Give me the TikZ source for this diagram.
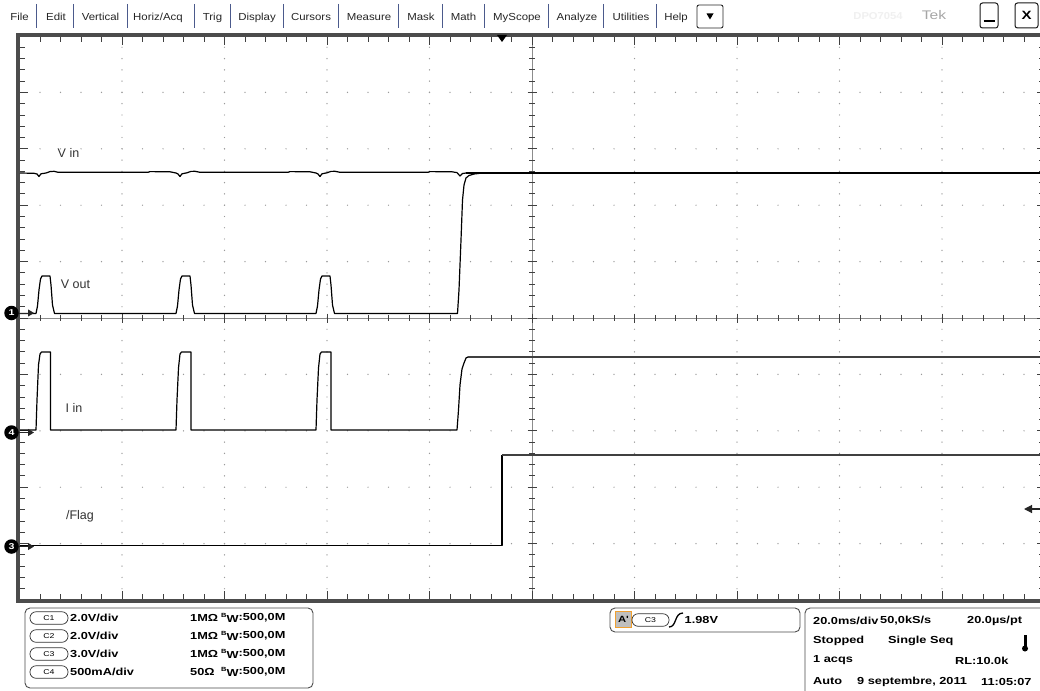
\documentclass[tikz,border=0pt]{standalone}
\usepackage{fontspec}
\setmainfont{Liberation Sans}
\newfontfamily\pf[FakeStretch=1.25]{Liberation Sans}
\newfontfamily\mf[FakeStretch=1.12]{Liberation Sans}
\usetikzlibrary{arrows.meta}
\definecolor{sepblue}{HTML}{4B5A8C}
\definecolor{dotc}{HTML}{9A9A9A}
\definecolor{trigorange}{HTML}{F0A030}
\newcommand\bwlabel{\raisebox{3pt}{\fontsize{6}{6}\selectfont B}\raisebox{-2.5pt}{W}}
\begin{document}
\begin{tikzpicture}[x=1pt,y=-1pt,
  trace/.style={black, line width=1.2pt, line join=round},
  tracer/.style={black!75, line width=1.8pt, line join=round},
  mk/.style={circle, fill=black, text=white, inner sep=0pt, minimum size=14.5pt, font=\pf\bfseries\fontsize{8.5}{8.5}\selectfont},
  mkarrow/.style={-{Triangle[length=6pt,width=7pt]}, line width=1pt, black!85},
  menu/.style={font=\mf\fontsize{10.2}{12}\selectfont, text=black!85, inner sep=0pt, anchor=base},
  sep/.style={sepblue, line width=0.9pt},
  pt/.style={font=\pf\bfseries\fontsize{10.2}{12}\selectfont, inner sep=0pt, anchor=west},
  oval/.style={draw=black!80, line width=0.7pt, rounded corners=6pt, minimum width=38pt, minimum height=12.5pt, inner sep=0pt, font=\pf\fontsize{7}{7}\selectfont},
  lab/.style={font=\fontsize{12.5}{14}\selectfont, text=black!80, inner sep=0pt},
  panel/.style={rounded corners=5pt, black!70, line width=0.9pt},
  tk/.style={black!75, line width=0.9pt},
]
\useasboundingbox (0,0) rectangle (1040,690);
\clip (0,0) rectangle (1040,690);
\fill[white] (0,0) rectangle (1040,690);

% ---------- menu bar ----------
\node[menu] (mFile) at (19.5,21) {File};
\node[menu] (mEdit) at (56,21) {Edit};
\node[menu] (mVert) at (100.5,21) {Vertical};
\node[menu] (mHor) at (158,21) {Horiz/Acq};
\node[menu] (mTrig) at (212.5,21) {Trig};
\node[menu] (mDisp) at (257,21) {Display};
\node[menu] (mCur) at (311,21) {Cursors};
\node[menu] (mMeas) at (369,21) {Measure};
\node[menu] (mMask) at (421,21) {Mask};
\node[menu] (mMath) at (463.5,21) {Math};
\node[menu] (mMy) at (517,21) {MyScope};
\node[menu] (mAn) at (577,21) {Analyze};
\node[menu] (mUt) at (631,21) {Utilities};
\node[menu] (mHelp) at (676,21) {Help};
\foreach \sx in {36,73,127,194,230,283,338,398,442,484,548,603,656}{
  \draw[sep] (\sx,4) -- (\sx,28);
}
\node[draw=black!85, line width=0.9pt, rounded corners=2pt, minimum width=26pt, minimum height=23pt, inner sep=0pt] (dd) at (710,16.5) {};
\fill[black] (706.5,13.5) -- (713.5,13.5) -- (710,19.5) -- cycle;
\node[font=\mf\bfseries\fontsize{10}{12}\selectfont, text=black!6, inner sep=0pt] (dpo) at (878,16) {DPO7054};
\node[font=\pf\fontsize{12.5}{14}\selectfont, text=black!35, inner sep=0pt] (tek) at (934,15.5) {Tek};
\node[draw=black!90, line width=1pt, rounded corners=2.5pt, minimum width=18pt, minimum height=25pt, inner sep=0pt] (minb) at (989,15.5) {};
\draw[black, line width=1.8pt] (983.5,21) -- (994.5,21);
\node[draw=black!90, line width=1pt, rounded corners=2.5pt, minimum width=23pt, minimum height=25pt, inner sep=0pt, font=\pf\bfseries\fontsize{12}{12}\selectfont] (xb) at (1026.5,15.5) {X};

% ---------- grid dots ----------
\foreach \i in {1,2,3,4,6,7,8,9}{
  \foreach \k in {1,...,49}{
    \fill[dotc] ({19.5+102.5*\i},{36+11.28*\k}) circle[radius=0.7];
  }
}
\foreach \j in {1,2,3,4,6,7,8,9}{
  \foreach \k in {1,...,49}{
    \fill[dotc] ({19.5+20.5*\k},{36+56.4*\j}) circle[radius=0.7];
  }
}
% center lines
\draw[black!45, line width=1pt] (532,36) -- (532,600);
\draw[black!45, line width=1pt] (19.5,318) -- (1044.5,318);
% ticks
\foreach \k in {1,...,49}{
  \pgfmathsetmacro\yy{36+11.28*\k}
  \pgfmathsetmacro\xx{19.5+20.5*\k}
  \pgfmathtruncatemacro\mj{mod(\k,5)==0}
  \ifnum\mj=1 \def\tkl{8}\def\tkc{4.5}\else \def\tkl{5.5}\def\tkc{3}\fi
  \draw[tk] (19.5,\yy) -- ++(\tkl,0);
  \draw[tk] (1044.5,\yy) -- ++(-\tkl,0);
  \draw[tk] (\xx,37) -- ++(0,\tkl);
  \draw[tk] (\xx,599) -- ++(0,-\tkl);
  \draw[tk] ({532-\tkc},\yy) -- ({532+\tkc},\yy);
  \draw[tk] (\xx,{318-\tkc}) -- (\xx,{318+\tkc});
}
% frame
\draw[black!70, line width=4pt] (1046,35) -- (17.5,35) -- (17.5,600.5) -- (1046,600.5);
\draw[black!70, line width=4pt] (1046.5,35) -- (1046.5,600.5);
% trigger position marker
\fill[black] (497,35) -- (507,35) -- (502,42) -- cycle;

% ---------- waveforms ----------
% V in
\draw[trace] (20,173) -- (34,173.3) -- (37,174) -- (39,176.5) -- (41,173.8) -- (46,173) -- (50,171.6) -- (54,171.3) -- (58,172.3) -- (148,172.3) -- (150,171.6) -- (170,171.8) -- (176,173) -- (178,174) -- (180,176.5) -- (182,173.8) -- (187,172.8) -- (191,171.4) -- (195,171.3) -- (200,172.3) -- (288,172.3) -- (290,171.6) -- (310,171.8) -- (316,173) -- (318,174) -- (320,176.5) -- (322,173.8) -- (327,172.8) -- (331,171.4) -- (335,171.3) -- (340,172.3) -- (428,172.3) -- (430,171.6) -- (452,171.8) -- (457,172.6) -- (460,176) -- (462.5,173.5) -- (466,173);
\draw[trace, line width=2pt] (466,173) -- (1041,173);
% V out
\draw[trace] (20,313.5) -- (36,313.5) -- (37.5,306) -- (39,290) -- (40.5,279) -- (42,276) -- (50,276) -- (51,285) -- (52.5,305) -- (54.5,313.5)
  -- (176,313.5) -- (177.5,306) -- (179,290) -- (180.5,279) -- (182,276) -- (190,276) -- (191,285) -- (192.5,305) -- (194.5,313.5)
  -- (316,313.5) -- (317.5,306) -- (319,290) -- (320.5,279) -- (322,276) -- (330,276) -- (331,285) -- (332.5,305) -- (334.5,313.5)
  -- (457.5,313.5) -- (459,290) -- (461,240) -- (462.5,200) -- (464,185) -- (466,178) -- (469,175.5) -- (474,174) -- (480,173.3);
% I in
\draw[trace] (20,430) -- (36,430) -- (37,400) -- (38.5,365) -- (40,354) -- (41.5,352) -- (50.5,352) -- (50.5,430)
  -- (176,430) -- (177,400) -- (178.5,368) -- (180,354) -- (181.5,352) -- (191,352) -- (191,430)
  -- (316,430) -- (317,400) -- (318.5,368) -- (320,354) -- (321.5,352) -- (331,352) -- (331,430)
  -- (457,430) -- (458.5,410) -- (460,385) -- (462,369) -- (464,363) -- (466,358) -- (468,357);
\draw[tracer] (468,357) -- (1041,357);
% /Flag
\draw[trace] (20,545.5) -- (502,545.5) -- (502,455);
\draw[tracer] (502,455) -- (1041,455);

% ---------- channel markers ----------
\node[mk] (m1) at (11.5,313) {1};
\coordinate (a1) at (34,313);
\draw[mkarrow] (m1.east) -- (a1);
\node[mk] (m4) at (11.5,432.5) {4};
\coordinate (a4) at (34,432.5);
\draw[mkarrow] (m4.east) -- (a4);
\node[mk] (m3) at (11.5,546.5) {3};
\coordinate (a3) at (34,546.5);
\draw[mkarrow] (m3.east) -- (a3);
% trigger level arrow
\coordinate (tl0) at (1042,509);
\coordinate (tl1) at (1024,509);
\draw[-{Triangle[length=8pt,width=8pt]}, line width=1.2pt, black!85] (tl0) -- (tl1);

% ---------- trace labels ----------
\node[lab] (lvin) at (68.5,153) {V in};
\node[lab] (lvout) at (75.5,284) {V out};
\node[lab] (liin) at (74,408) {I in};
\node[lab] (lflag) at (80,516.5) {/Flag};

% ---------- bottom left panel ----------
\draw[panel] (25,608) rectangle (313,688);
\node[oval] (c1) at (49,618) {C1};
\node[pt] (c1v) at (70,618) {2.0V/div};
\node[pt] (c1r) at (190,618) {1MΩ};
\node[pt] (c1b) at (221,618) {\bwlabel:500,0M};
\node[oval] (c2) at (49,636) {C2};
\node[pt] (c2v) at (70,636) {2.0V/div};
\node[pt] (c2r) at (190,636) {1MΩ};
\node[pt] (c2b) at (221,636) {\bwlabel:500,0M};
\node[oval] (c3) at (49,654) {C3};
\node[pt] (c3v) at (70,654) {3.0V/div};
\node[pt] (c3r) at (190,654) {1MΩ};
\node[pt] (c3b) at (221,654) {\bwlabel:500,0M};
\node[oval] (c4) at (49,672) {C4};
\node[pt] (c4v) at (70,672) {500mA/div};
\node[pt] (c4r) at (190,672) {50Ω};
\node[pt] (c4b) at (221,672) {\bwlabel:500,0M};

% ---------- trigger panel ----------
\draw[panel] (610,608) rectangle (800,632);
\node[draw=trigorange, fill=black!25, line width=1pt, minimum width=16pt, minimum height=16pt, inner sep=0pt, font=\pf\bfseries\fontsize{9}{9}\selectfont] (ap) at (623.5,619.5) {A'};
\node[oval, minimum width=37pt] (c3t) at (650.5,620) {C3};
\draw[black, line width=1.3pt] (669,627) .. controls (677,627) and (674,613) .. (683,613);
\node[pt] (lvl) at (684.5,620) {1.98V};

% ---------- timebase panel ----------
\draw[panel] (805,608) rectangle (1055,700);
\node[pt] (hs) at (813,621) {20.0ms/div};
\node[pt] (sr) at (880,621) {50,0kS/s};
\node[pt] (sp) at (967,621) {20.0µs/pt};
\node[pt] (st) at (813,640.5) {Stopped};
\node[pt] (sq) at (888,640.5) {Single Seq};
\fill[black] (1023.5,635) rectangle (1026.5,647);
\fill[black] (1025,648.5) circle[radius=3];
\node[pt] (aq) at (813,660.5) {1 acqs};
\node[pt] (rl) at (955,660.5) {RL:10.0k};
\node[pt] (au) at (813,681.5) {Auto};
\node[pt] (dt) at (857,681.5) {9 septembre, 2011};
\node[pt] (tm) at (981,681.5) {11:05:07};
\end{tikzpicture}
\end{document}
